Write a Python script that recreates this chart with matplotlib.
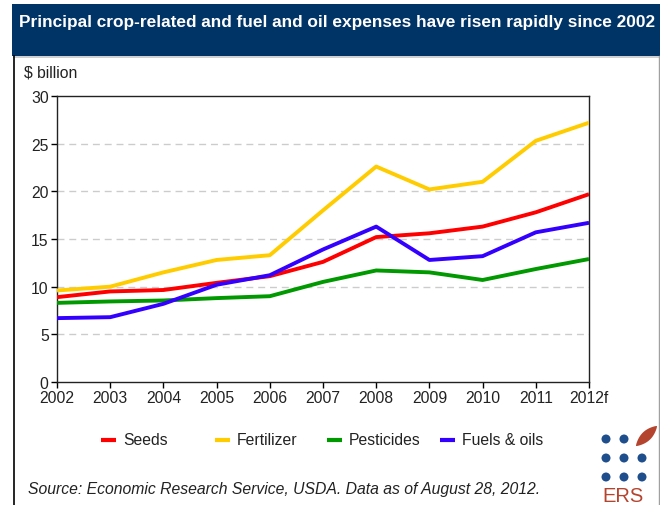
import matplotlib
matplotlib.use("Agg")
import numpy as np
import matplotlib.pyplot as plt
from matplotlib.patches import Rectangle, Ellipse, Polygon
from matplotlib.lines import Line2D

plt.rcParams['font.family'] = ['Liberation Sans', 'DejaVu Sans']

years = ["2002", "2003", "2004", "2005", "2006", "2007", "2008", "2009", "2010", "2011", "2012f"]
seeds = [8.9, 9.5, 9.65, 10.4, 11.1, 12.6, 15.2, 15.6, 16.3, 17.8, 19.7]
fertilizer = [9.6, 10.0, 11.5, 12.8, 13.3, 18.0, 22.6, 20.2, 21.0, 25.3, 27.2]
pesticides = [8.3, 8.45, 8.55, 8.8, 9.0, 10.5, 11.7, 11.5, 10.7, 11.85, 12.9]
fuels_oils = [6.7, 6.8, 8.2, 10.2, 11.2, 13.9, 16.3, 12.8, 13.2, 15.7, 16.7]

series_names = ["Seeds", "Fertilizer", "Pesticides", "Fuels & oils"]
series_values = [seeds, fertilizer, pesticides, fuels_oils]
series_colors = ["#ff0000", "#ffcc00", "#009900", "#3300ff"]
y_ticks = [0, 5, 10, 15, 20, 25, 30]

W, H = 660, 506
fig = plt.figure(figsize=(W / 100, H / 100), dpi=100)

def fx(px):
    return px / W

def fy(py):
    return 1 - py / H

TXT = "#222222"
FS = 11.3

# header band
fig.patches.append(Rectangle((fx(12), fy(57)), fx(W - 12), fy(5) - fy(57),
                             transform=fig.transFigure, facecolor="#003366",
                             edgecolor="none", zorder=0))
fig.patches.append(Rectangle((fx(13), fy(59)), fx(W - 13), fy(57) - fy(59),
                             transform=fig.transFigure, facecolor="#d0d0d0",
                             edgecolor="none", zorder=0))
fig.lines.append(Line2D([fx(13.5), fx(13.5)], [fy(57), 0], transform=fig.transFigure,
                        color="black", lw=1.2))
fig.lines.append(Line2D([fx(658.5), fx(658.5)], [fy(57), 0], transform=fig.transFigure,
                        color="#a0a0a0", lw=1.0))
fig.text(fx(19), fy(23), "Principal crop-related and fuel and oil expenses have risen rapidly since 2002",
         color="white", fontsize=12.4, fontweight="bold", va="center", ha="left")

# plot area
ax = fig.add_axes([fx(57), fy(383), fx(589) - fx(57), fy(97) - fy(383)])
x = list(range(len(years)))
for name, vals, col in zip(series_names, series_values, series_colors):
    ax.plot(x, vals, color=col, lw=2.8, label=name, solid_capstyle="butt", zorder=3)

ax.set_xlim(0, len(years) - 1)
ax.set_ylim(0, 30)
ax.set_xticks(x)
ax.set_xticklabels(years)
ax.set_yticks(y_ticks)
ax.set_yticklabels([str(v) for v in y_ticks])
for v in y_ticks[1:-1]:
    ax.axhline(v, color="#cccccc", lw=1.0, ls=(0, (5, 3.5)), zorder=1)
ax.tick_params(direction="out", length=4, width=1, labelsize=FS, color="black",
               labelcolor=TXT, pad=2)
for s in ax.spines.values():
    s.set_color("#222222")
    s.set_linewidth(1.0)

fig.text(fx(24), fy(73), "$ billion", fontsize=FS, color=TXT, va="center", ha="left")

# legend entries, evenly spaced under the plot
legend_x = [101, 215, 327, 440]
for lx, name, col in zip(legend_x, series_names, series_colors):
    fig.lines.append(Line2D([fx(lx), fx(lx + 15)], [fy(441), fy(441)],
                            transform=fig.transFigure, color=col, lw=3,
                            solid_capstyle="butt"))
    fig.text(fx(lx + 22), fy(441), name, fontsize=FS, color=TXT, va="center", ha="left")

fig.text(fx(28), fy(490), "Source: Economic Research Service, USDA. Data as of August 28, 2012.",
         fontsize=FS, style="italic", color=TXT, va="center", ha="left")

# ERS logo: dot grid, leaf and lettering
dot_col = "#1f4e8c"
logo_red = "#b5442f"
for r, yy in enumerate([440, 459, 478]):
    for c, xx in enumerate([606, 624, 642]):
        if r == 0 and c == 2:
            continue
        fig.patches.append(Ellipse((fx(xx), fy(yy)), fx(9), fy(0) - fy(9),
                                   transform=fig.transFigure, facecolor=dot_col,
                                   edgecolor="none"))

# leaf outline in pixel space, converted to inches
tip_a = np.array([636.0, 447.0])
tip_b = np.array([657.0, 427.0])
axis_vec = tip_b - tip_a
normal = np.array([-axis_vec[1], axis_vec[0]]) / np.hypot(*axis_vec)
t = np.linspace(0, 1, 40)
half_w = 5.0 * np.sin(np.pi * t) ** 0.8
upper = tip_a + np.outer(t, axis_vec) + np.outer(half_w, normal)
lower = tip_a + np.outer(t[::-1], axis_vec) - np.outer(half_w[::-1], normal)
leaf_px = np.vstack([upper, lower])
leaf_in = np.column_stack([leaf_px[:, 0] / 100, (H - leaf_px[:, 1]) / 100])
fig.patches.append(Polygon(leaf_in, closed=True, transform=fig.dpi_scale_trans,
                           facecolor=logo_red, edgecolor="none"))

fig.text(fx(623), fy(497), "ERS", color=logo_red, fontsize=14.5, ha="center", va="center")

fig.savefig("out.png", dpi=100)
